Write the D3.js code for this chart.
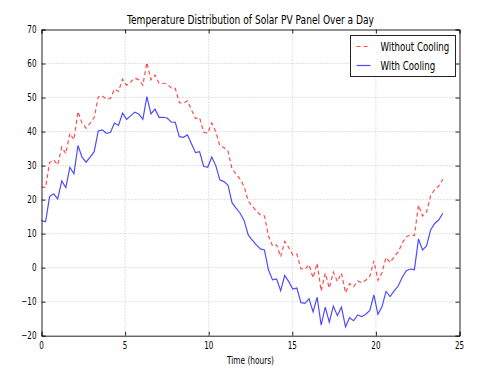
<!DOCTYPE html>
<html>
<head>
<meta charset="utf-8">
<script src="https://cdn.jsdelivr.net/npm/d3@7"></script>
<style>
  body { margin: 0; background: #fff; }
  text { font-family: "DejaVu Sans", sans-serif; fill: #000; }
</style>
</head>
<body>
<div id="chart"></div>
<script>
var svgWidth = 480;
var svgHeight = 378;

var margin = { top: 29.5, right: 20.5, bottom: 42.3, left: 41.5 };
var width = svgWidth - margin.left - margin.right;
var height = svgHeight - margin.top - margin.bottom;

// 100 samples, 0..24 h
var hours = d3.range(100).map(i => i * 24 / 99);

var withCooling = [
  13.8, 13.5, 20.9, 21.7, 20.2, 25.5, 23.5, 29.5, 27.6, 35.9,
  32.5, 31.0, 32.5, 34.1, 40.2, 40.5, 39.5, 39.7, 42.5, 41.8,
  45.4, 43.6, 44.6, 45.7, 45.2, 43.6, 50.3, 45.2, 46.6, 44.2,
  44.2, 44.0, 42.8, 42.7, 38.5, 38.3, 39.0, 36.4, 33.8, 34.1,
  29.8, 29.5, 32.5, 30.0, 25.8, 25.3, 24.3, 19.1, 17.5, 16.0,
  13.8, 9.6, 8.1, 6.7, 5.5, 5.2, -0.7, -3.6, -3.3, -6.8,
  -2.3, -4.1, -6.3, -6.0, -10.3, -10.5, -9.1, -13.0, -8.7, -16.9,
  -11.6, -16.0, -11.3, -14.1, -11.6, -17.4, -14.7, -15.6, -13.9, -14.4,
  -13.7, -12.6, -8.0, -13.7, -11.5, -7.0, -8.5, -6.8, -5.4, -2.8,
  -0.9, -0.4, -0.6, 8.4, 5.2, 6.4, 11.1, 13.0, 14.0, 16.0
];

var withoutCooling = [
  23.8, 23.5, 30.9, 31.7, 30.2, 35.5, 33.5, 39.5, 37.6, 45.9,
  42.5, 41.0, 42.5, 44.1, 50.2, 50.5, 49.5, 49.7, 52.5, 51.8,
  55.4, 53.6, 54.6, 55.7, 55.2, 53.6, 60.3, 55.2, 56.6, 54.2,
  54.2, 54.0, 52.8, 52.7, 48.5, 48.3, 49.0, 46.4, 43.8, 44.1,
  39.8, 39.5, 42.5, 40.0, 35.8, 35.3, 34.3, 29.1, 27.5, 26.0,
  23.8, 19.6, 18.1, 16.7, 15.5, 15.2, 9.3, 6.4, 6.7, 3.2,
  7.7, 5.9, 3.7, 4.0, -0.3, -0.5, 0.9, -3.0, 1.3, -6.9,
  -1.6, -6.0, -1.3, -4.1, -1.6, -7.4, -4.7, -5.6, -3.9, -4.4,
  -3.7, -2.6, 2.0, -3.7, -1.5, 3.0, 1.5, 3.2, 4.6, 7.2,
  9.1, 9.6, 9.4, 18.4, 15.2, 16.4, 21.1, 23.0, 24.0, 26.0
];

var xTicks = [0, 5, 10, 15, 20, 25];
var yTicks = [-20, -10, 0, 10, 20, 30, 40, 50, 60, 70];
var seriesNames = ["Without Cooling", "With Cooling"];

var svg = d3.select("#chart")
  .append("svg")
  .attr("width", svgWidth)
  .attr("height", svgHeight);

var chartGroup = svg.append("g")
  .attr("transform", `translate(${margin.left}, ${margin.top})`);

var xScale = d3.scaleLinear().domain([0, 25]).range([0, width]);
var yScale = d3.scaleLinear().domain([-20, 70]).range([height, 0]);

// narrow text like the picture
var sx = 0.72;
function addText(g, x, y, str, size, anchor) {
  return g.append("text")
    .attr("transform", `translate(${x}, ${y}) scale(${sx}, 1)`)
    .attr("font-size", size)
    .attr("text-anchor", anchor)
    .text(str);
}

// grid
chartGroup.append("g")
  .selectAll("line")
  .data(xTicks.slice(1, -1))
  .enter()
  .append("line")
    .attr("x1", d => xScale(d)).attr("x2", d => xScale(d))
    .attr("y1", 0).attr("y2", height)
    .attr("stroke", "#c4c4c4")
    .attr("stroke-dasharray", "1,2");

chartGroup.append("g")
  .selectAll("line")
  .data(yTicks.slice(1, -1))
  .enter()
  .append("line")
    .attr("x1", 0).attr("x2", width)
    .attr("y1", d => yScale(d)).attr("y2", d => yScale(d))
    .attr("stroke", "#c4c4c4")
    .attr("stroke-dasharray", "1,2");

// axes with inward ticks
var bottomAxis = d3.axisBottom(xScale).tickValues(xTicks).tickSize(-4).tickFormat("");
var topAxis = d3.axisTop(xScale).tickValues(xTicks).tickSize(-4).tickFormat("");
var leftAxis = d3.axisLeft(yScale).tickValues(yTicks).tickSize(-4).tickFormat("");
var rightAxis = d3.axisRight(yScale).tickValues(yTicks).tickSize(-4).tickFormat("");

chartGroup.append("g").attr("transform", `translate(0, ${height})`).call(bottomAxis);
chartGroup.append("g").call(topAxis);
chartGroup.append("g").call(leftAxis);
chartGroup.append("g").attr("transform", `translate(${width}, 0)`).call(rightAxis);
chartGroup.selectAll(".domain").attr("stroke", "#222");
chartGroup.selectAll(".tick line").attr("stroke", "#222");

// tick labels
var tickLabels = chartGroup.append("g");
xTicks.forEach(function(t) {
  addText(tickLabels, xScale(t), height + 13, String(t), 10, "middle");
});
yTicks.forEach(function(t) {
  addText(tickLabels, -5, yScale(t) + 3.5, String(t).replace("-", "\u2212"), 10, "end");
});

// lines
var line = d3.line()
  .x((d, i) => xScale(hours[i]))
  .y(d => yScale(d));

chartGroup.append("path")
  .datum(withoutCooling)
  .attr("fill", "none")
  .attr("stroke", "#ff0000")
  .attr("stroke-opacity", 0.7)
  .attr("stroke-width", 1.2)
  .attr("stroke-dasharray", "4,3")
  .attr("d", line);

chartGroup.append("path")
  .datum(withCooling)
  .attr("fill", "none")
  .attr("stroke", "#0000ff")
  .attr("stroke-opacity", 0.7)
  .attr("stroke-width", 1.2)
  .attr("d", line);

// title and axis label
svg.append("text")
  .attr("x", 127).attr("y", 24)
  .attr("font-size", 12)
  .attr("textLength", 247)
  .attr("lengthAdjust", "spacingAndGlyphs")
  .text("Temperature Distribution of Solar PV Panel Over a Day");

svg.append("text")
  .attr("x", 227).attr("y", 364)
  .attr("font-size", 10)
  .attr("textLength", 47)
  .attr("lengthAdjust", "spacingAndGlyphs")
  .text("Time (hours)");

// legend
var legend = svg.append("g").attr("transform", "translate(350.5, 35.5)");
legend.append("rect")
  .attr("width", 105).attr("height", 41)
  .attr("fill", "#fff")
  .attr("stroke", "#222");

var legendStyles = [
  { color: "#ff0000", dash: "4,3" },
  { color: "#0000ff", dash: null }
];
seriesNames.forEach(function(name, i) {
  var yy = 11 + i * 19;
  legend.append("line")
    .attr("x1", 6).attr("x2", 20)
    .attr("y1", yy).attr("y2", yy)
    .attr("stroke", legendStyles[i].color)
    .attr("stroke-opacity", 0.7)
    .attr("stroke-width", 1.2)
    .attr("stroke-dasharray", legendStyles[i].dash);
  legend.append("text")
    .attr("transform", `translate(30, ${yy + 4}) scale(${sx}, 1)`)
    .attr("font-size", 12)
    .text(name);
});
</script>
</body>
</html>
